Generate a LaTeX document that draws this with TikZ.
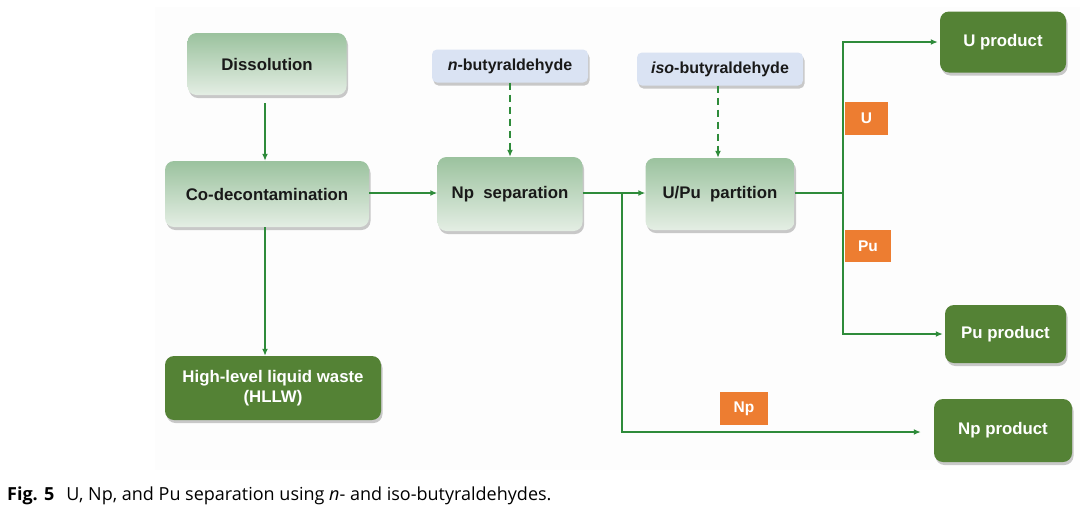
\documentclass[tikz,border=0pt]{standalone}
\usepackage{fontspec}
\setmainfont{Liberation Sans}
\newfontfamily\capfont{Open Sans}
\usetikzlibrary{arrows.meta,shadows,positioning}
\definecolor{panelbg}{RGB}{253,253,253}
\definecolor{gtop}{RGB}{155,194,158}
\definecolor{gbot}{RGB}{228,238,228}
\definecolor{dgreen}{RGB}{84,130,53}
\definecolor{lblue}{RGB}{218,227,243}
\definecolor{orng}{RGB}{237,125,49}
\definecolor{arr}{RGB}{46,139,58}
\tikzset{
  shad/.style={drop shadow={shadow xshift=1.5pt,shadow yshift=-3pt,opacity=0.35,fill=black!60}},
  gradbox/.style={shad,rounded corners=9pt,top color=gtop,bottom color=gbot,draw=none,
    font=\fontsize{16.8}{20}\selectfont\bfseries,text=black!90,align=center,inner sep=0pt},
  darkbox/.style={shad,rounded corners=9pt,fill=dgreen,draw=none,
    font=\fontsize{16.8}{20}\selectfont\bfseries,text=white,align=center,inner sep=0pt},
  bluebox/.style={shad,rounded corners=5pt,fill=lblue,draw=none,
    font=\fontsize{16}{19}\selectfont\bfseries,text=black!90,inner sep=0pt},
  tagbox/.style={fill=orng,draw=none,font=\fontsize{15.5}{18}\selectfont\bfseries,text=white,inner sep=0pt},
  flow/.style={draw=arr,line width=2.2pt,-{Latex[length=7pt,width=6pt]}},
  feed/.style={flow,dash pattern=on 7pt off 5pt},
  plain/.style={draw=arr,line width=2.2pt}
}
\begin{document}
\begin{tikzpicture}[x=1pt,y=-1pt]
\useasboundingbox (0,0) rectangle (1080,507);
\fill[panelbg] (155,7) rectangle (1080,470);

\node[gradbox,minimum width=159pt,minimum height=62pt] (dis) at (267,64) {Dissolution};
\node[gradbox,minimum width=204pt,minimum height=66pt] (cod) at (267,194) {Co-decontamination};
\node[bluebox,minimum width=156pt,minimum height=33pt] (nb) at (510,66) {\itshape n\upshape-butyraldehyde};
\node[gradbox,minimum width=145pt,minimum height=74pt] (nps) at (510,194) {Np\ \ separation};
\node[bluebox,minimum width=166pt,minimum height=33pt] (ib) at (720,69) {\itshape iso\upshape-butyraldehyde};
\node[gradbox,minimum width=149pt,minimum height=72pt] (upu) at (720,194) {U/Pu\ \ partition};
\node[darkbox,minimum width=126pt,minimum height=61pt] (up) at (1003,42) {U product};
\node[darkbox,minimum width=121pt,minimum height=58pt] (pup) at (1005.5,334) {Pu product};
\node[darkbox,minimum width=216pt,minimum height=64pt] (hl) at (273,388) {High-level liquid waste\\(HLLW)};
\node[darkbox,minimum width=138pt,minimum height=63pt] (npp) at (1003,430.5) {Np product};
\node[tagbox,minimum width=43pt,minimum height=33pt] (tu) at (866.5,118.5) {U};
\node[tagbox,minimum width=46pt,minimum height=32pt] (tpu) at (868,246) {Pu};
\node[tagbox,minimum width=48pt,minimum height=33pt] (tnp) at (744,408.5) {Np};

\coordinate (j1) at (622,193);
\coordinate (j2) at (843,193);

\draw[flow] ([yshift=-8pt]dis.south -| 265,0) -- (cod.north -| 265,0);
\draw[flow] (cod.east |- 0,193) -- (nps.west |- 0,193);
\draw[flow] (cod.south -| 265,0) -- (hl.north -| 265,0);
\draw[feed] (nb.south) -- (nps.north);
\draw[feed] (ib.south -| 718,0) -- (upu.north -| 718,0);
\draw[flow] (nps.east |- 0,193) -- (upu.west |- 0,193);
\draw[flow] (j1) -- (622,432) -- ([xshift=-13pt]npp.west |- 0,432);
\draw[plain] (upu.east |- 0,193) -- (j2);
\draw[flow] (j2) -- (843,42) -- ([xshift=-2pt]up.west |- 0,42);
\draw[flow] (j2) -- (843,334) -- ([xshift=-2pt]pup.west |- 0,334);

\node[anchor=base west,inner sep=0pt,font=\capfont\fontsize{18}{21}\selectfont] (cap) at (7,500)
  {\textbf{Fig. 5}\hspace{12pt}U, Np, and Pu separation using \textit{n}- and iso-butyraldehydes.};
\end{tikzpicture}
\end{document}
